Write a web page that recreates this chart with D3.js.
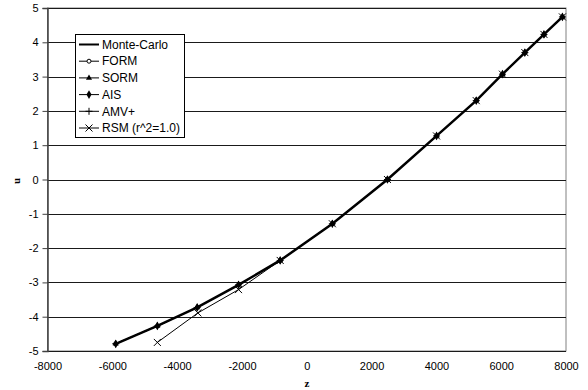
<!DOCTYPE html>
<html>
<head>
<meta charset="utf-8">
<script src="https://cdn.jsdelivr.net/npm/d3@7"></script>
<style>
  body { margin: 0; background: #fff; }
  svg { display: block; font-family: "Liberation Sans", Arial, sans-serif; }
</style>
</head>
<body>
<svg id="chart" width="588" height="390"></svg>
<script>
// Response z versus standard normal variate u for each method
const zCommon = [-5895, -4610, -3380, -2105, -820, 790, 2490, 4005, 5230, 6040, 6730, 7320, 7890];
const uCommon = [-4.79, -4.27, -3.73, -3.07, -2.36, -1.29, 0, 1.27, 2.30, 3.07, 3.70, 4.23, 4.74];
const zRsm = [-4610, -3360, -2105, -820, 790, 2490, 4005, 5230, 6040, 6730, 7320, 7890];
const uRsm = [-4.75, -3.89, -3.21, -2.36, -1.29, 0, 1.27, 2.30, 3.07, 3.70, 4.23, 4.74];
const seriesNames = ["Monte-Carlo", "FORM", "SORM", "AIS", "AMV+", "RSM (r^2=1.0)"];
const xTicks = [-8000, -6000, -4000, -2000, 0, 2000, 4000, 6000, 8000];
const yTicks = [-5, -4, -3, -2, -1, 0, 1, 2, 3, 4, 5];

const svg = d3.select("#chart");
const plotLeft = 47.5, plotRight = 566, plotTop = 8, plotBottom = 351;

const x = d3.scaleLinear().domain([-8000, 8000]).range([plotLeft, plotRight]);
const y = d3.scaleLinear().domain([-5, 5]).range([plotBottom, plotTop]);

// plain hyphen for negative tick labels
const fmt = d => String(d);

// plot frame
svg.append("rect")
  .attr("x", plotLeft).attr("y", plotTop)
  .attr("width", plotRight - plotLeft).attr("height", plotBottom - plotTop)
  .attr("fill", "#fff").attr("stroke", "#808080").attr("stroke-width", 1);

// horizontal gridlines
svg.append("g").selectAll("line").data(yTicks).join("line")
  .attr("x1", plotLeft).attr("x2", plotRight)
  .attr("y1", d => Math.round(y(d)) + 0.5).attr("y2", d => Math.round(y(d)) + 0.5)
  .attr("stroke", "#1a1a1a").attr("stroke-width", 1);

// y axis
const yAxis = d3.axisLeft(y).tickValues(yTicks).tickSize(5).tickPadding(4).tickFormat(fmt);
const gy = svg.append("g").attr("transform", `translate(${plotLeft},0)`).call(yAxis);
gy.select(".domain").attr("stroke", "#404040").attr("stroke-width", 1.5);
gy.selectAll(".tick line").attr("stroke", "#404040");
gy.selectAll("text").attr("font-size", 11).attr("fill", "#000")
  .attr("font-family", "Liberation Sans, Arial, sans-serif");

// x axis labels along the bottom
const xAxis = d3.axisBottom(x).tickValues(xTicks).tickSize(0).tickPadding(11).tickFormat(fmt);
const gx = svg.append("g").attr("transform", `translate(0,${plotBottom})`).call(xAxis);
gx.select(".domain").remove();
gx.selectAll("text").attr("font-size", 11).attr("fill", "#000")
  .attr("font-family", "Liberation Sans, Arial, sans-serif");

// axis titles
svg.append("text").attr("x", 307).attr("y", 387).attr("text-anchor", "middle")
  .attr("font-family", "Liberation Serif, Times New Roman, serif")
  .attr("font-weight", "bold").attr("font-size", 11).text("z");
svg.append("text").attr("transform", "translate(20,181) rotate(-90)").attr("text-anchor", "middle")
  .attr("font-family", "Liberation Serif, Times New Roman, serif")
  .attr("font-weight", "bold").attr("font-size", 11).text("u");

// marker drawing helpers
function drawMarker(g, kind, cx, cy) {
  if (kind === "circle") {
    g.append("circle").attr("cx", cx).attr("cy", cy).attr("r", 2)
      .attr("fill", "#fff").attr("stroke", "#000").attr("stroke-width", 1);
  } else if (kind === "triangle") {
    g.append("path").attr("d", d3.symbol(d3.symbolTriangle, 16)())
      .attr("transform", `translate(${cx},${cy})`).attr("fill", "#000");
  } else if (kind === "diamond") {
    g.append("path").attr("d", d3.symbol(d3.symbolDiamond, 22)())
      .attr("transform", `translate(${cx},${cy})`).attr("fill", "#000");
  } else if (kind === "plus") {
    g.append("path").attr("d", `M${cx - 3.5},${cy}H${cx + 3.5}M${cx},${cy - 3.5}V${cy + 3.5}`)
      .attr("stroke", "#000").attr("stroke-width", 1).attr("fill", "none");
  } else if (kind === "cross") {
    g.append("path").attr("d", `M${cx - 3.5},${cy - 3.5}L${cx + 3.5},${cy + 3.5}M${cx - 3.5},${cy + 3.5}L${cx + 3.5},${cy - 3.5}`)
      .attr("stroke", "#000").attr("stroke-width", 1).attr("fill", "none");
  }
}

const line = d3.line().x(d => x(d[0])).y(d => y(d[1]));
const common = zCommon.map((z, i) => [z, uCommon[i]]);
const rsm = zRsm.map((z, i) => [z, uRsm[i]]);

const series = [
  { name: seriesNames[0], data: common, width: 2.5, marker: null },
  { name: seriesNames[1], data: common, width: 1, marker: "circle" },
  { name: seriesNames[2], data: common, width: 1, marker: "triangle" },
  { name: seriesNames[3], data: common, width: 1, marker: "diamond" },
  { name: seriesNames[4], data: common, width: 1, marker: "plus" },
  { name: seriesNames[5], data: rsm, width: 1, marker: "cross" }
];

const plot = svg.append("g");
series.forEach(s => {
  plot.append("path").datum(s.data).attr("d", line)
    .attr("fill", "none").attr("stroke", "#000").attr("stroke-width", s.width);
});
series.forEach(s => {
  if (!s.marker) return;
  const g = plot.append("g");
  s.data.forEach(d => drawMarker(g, s.marker, x(d[0]), y(d[1])));
});

// legend
const lg = svg.append("g");
lg.append("rect").attr("x", 75.5).attr("y", 34.5).attr("width", 109).attr("height", 103)
  .attr("fill", "#fff").attr("stroke", "#000").attr("stroke-width", 1);
series.forEach((s, i) => {
  const cy = 44.5 + i * 16.7;
  lg.append("line").attr("x1", 79).attr("x2", 99).attr("y1", cy).attr("y2", cy)
    .attr("stroke", "#000").attr("stroke-width", Math.min(s.width, 2));
  if (s.marker) drawMarker(lg, s.marker, 89, cy);
  lg.append("text").attr("x", 102).attr("y", cy).attr("dy", "0.35em")
    .attr("font-size", 12).attr("fill", "#000").text(s.name);
});
</script>
</body>
</html>
